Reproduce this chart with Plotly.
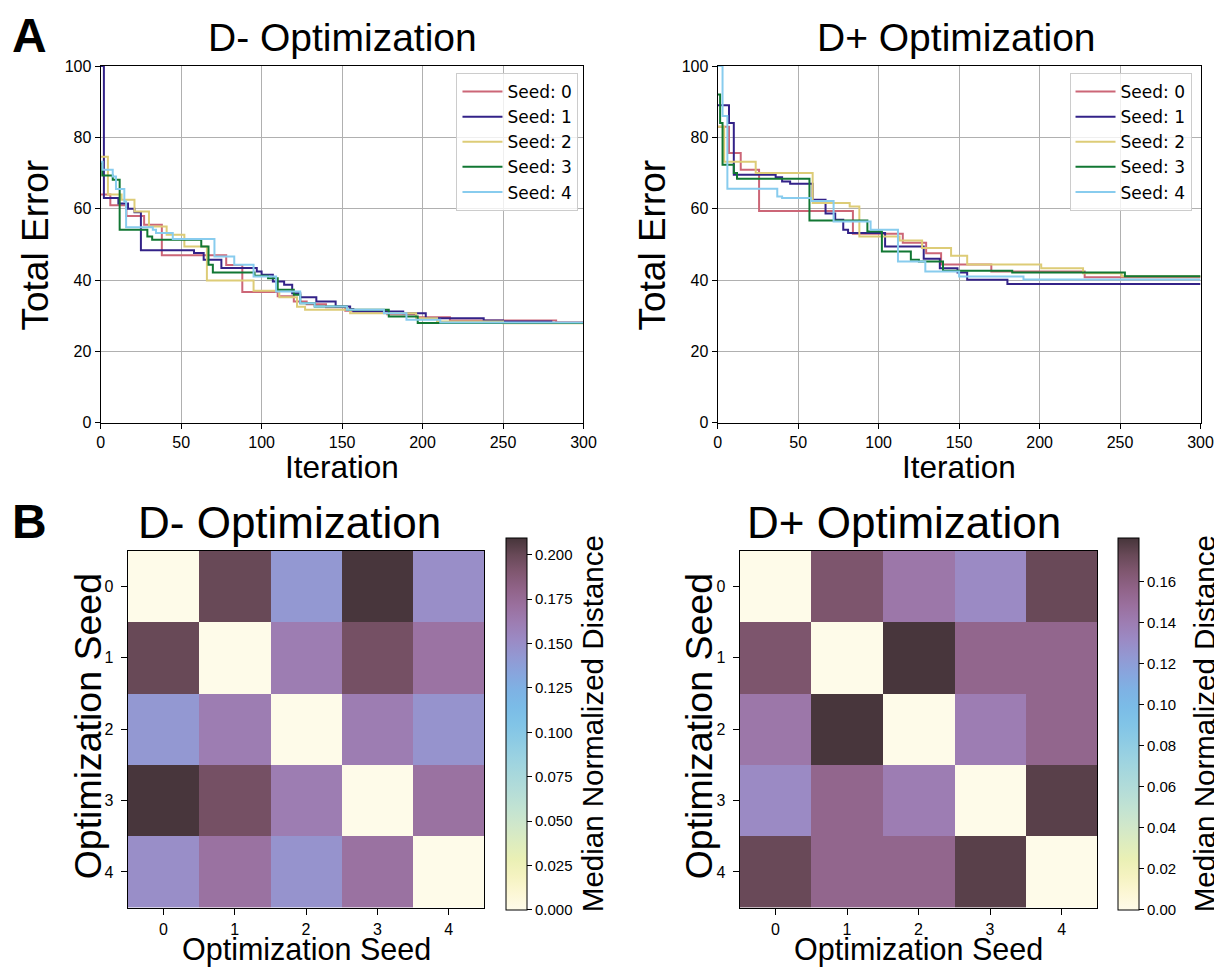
import plotly.graph_objects as go

# ---------------- DATA ----------------
seed_names = ["Seed: 0", "Seed: 1", "Seed: 2", "Seed: 3", "Seed: 4"]
seed_colors = ["#CC6677", "#332288", "#DDCC77", "#117733", "#88CCEE"]

# D- Optimization : iteration at which a new best was found, and total error
dm_iter_s0 = [0, 6, 16, 27, 38, 78, 88, 110, 120, 128, 140, 152, 178, 196, 217, 283, 300]
dm_err_s0 = [64, 61, 58, 55.5, 47, 44.2, 36.7, 35.5, 34, 33.2, 32.4, 31.4, 30.4, 29.6, 28.7, 28.2, 28.2]
dm_iter_s1 = [0, 2, 11, 17, 21, 25, 58, 64, 75, 97, 100, 107, 114, 119, 124, 134, 146, 155, 157, 188, 202, 238, 250, 280, 300]
dm_err_s1 = [100, 63, 61.5, 60, 59, 48.4, 47.6, 45.7, 43.4, 42.4, 41.5, 39.6, 38.7, 36.3, 35.2, 34, 32.6, 31.8, 31.2, 30.7, 29.3, 28.7, 28.4, 28, 28]
dm_iter_s2 = [0, 4.5, 13, 21, 30, 41, 52, 66, 95, 111, 122, 127, 155, 196, 209, 250, 300]
dm_err_s2 = [74.6, 64, 62.5, 59.2, 55, 52.7, 49.4, 39.9, 37, 35.2, 32.5, 31.7, 30.7, 29.3, 28.4, 27.9, 27.9]
dm_iter_s3 = [0, 1, 7.5, 11.8, 29, 32, 62.5, 67, 69.7, 95.6, 104, 110, 120, 124, 133, 153, 179, 197, 300]
dm_err_s3 = [73, 69.3, 68.1, 54.1, 52.2, 51.3, 49.4, 44.3, 42.1, 41.2, 40.5, 37.3, 35.9, 33.5, 32.6, 31.7, 29.8, 28, 28]
dm_iter_s4 = [0, 1.2, 7.5, 9.5, 14.7, 15.8, 32.4, 34.4, 44.8, 70.7, 83, 95, 109, 124, 133, 153, 176, 190, 211, 300]
dm_err_s4 = [73.2, 70.9, 69, 65.5, 62, 54.8, 54.1, 53.2, 51.5, 46.6, 44.3, 41, 36.8, 33.5, 32.6, 31.7, 30.7, 28.9, 28.1, 28.1]

# D+ Optimization
dp_iter_s0 = [0, 7, 14.3, 25.7, 84, 115, 129.5, 138.8, 170, 228, 300]
dp_err_s0 = [83, 75.6, 70.9, 59.4, 53, 50.5, 47.5, 44.4, 42.4, 40.8, 40.8]
dp_iter_s1 = [0, 7, 10, 36, 40, 45, 59, 67, 73, 78, 81, 104, 128, 138, 149, 155, 180, 300]
dp_err_s1 = [89, 84, 69.5, 68.8, 67.6, 67, 62.5, 58.7, 56.9, 54.1, 53.2, 49.4, 46, 43.3, 42.1, 40.1, 38.9, 38.9]
dp_iter_s2 = [0, 4, 23.6, 59, 82, 88, 113, 127, 145, 155, 201, 227, 251, 300]
dp_err_s2 = [83, 73.2, 70, 61.6, 60.6, 52.2, 51.1, 49, 46.8, 44.4, 43.3, 41.9, 41.1, 41.1]
dp_iter_s3 = [0, 1.5, 3, 10, 12, 57, 93, 102, 120, 125, 140, 183, 253, 300]
dp_err_s3 = [92, 84, 72.3, 70, 68.4, 56.7, 53.6, 48, 45.7, 45.2, 42.6, 42.1, 41.1, 41.1]
dp_iter_s4 = [0, 3, 6, 37, 40, 58, 72, 95, 112, 129, 150, 190, 300]
dp_err_s4 = [100, 86, 65.6, 63.4, 63, 62.2, 56.4, 54.1, 45.2, 42.4, 41, 40.2, 40.2]

# Median normalized distance between optimization seeds
seed_ticks = [0, 1, 2, 3, 4]
dm_dist = [
    [0.000, 0.200, 0.143, 0.209, 0.150],
    [0.200, 0.000, 0.162, 0.195, 0.169],
    [0.143, 0.162, 0.000, 0.162, 0.146],
    [0.209, 0.195, 0.162, 0.000, 0.170],
    [0.150, 0.170, 0.146, 0.170, 0.000],
]
dp_dist = [
    [0.000, 0.166, 0.144, 0.132, 0.173],
    [0.166, 0.000, 0.181, 0.155, 0.155],
    [0.144, 0.181, 0.000, 0.140, 0.155],
    [0.132, 0.155, 0.140, 0.000, 0.177],
    [0.173, 0.155, 0.155, 0.177, 0.000],
]
dm_ticks = [0.0, 0.025, 0.05, 0.075, 0.1, 0.125, 0.15, 0.175, 0.2]
dp_ticks = [0.0, 0.02, 0.04, 0.06, 0.08, 0.1, 0.12, 0.14, 0.16]
dm_vmax = 0.2096
dp_vmax = 0.1815

iridescent = ["#FEFBE9", "#FCF7D5", "#F5F3C1", "#EAF0B5", "#DDECBF", "#D0E7CA",
              "#C2E3D2", "#B5DDD8", "#A8D8DC", "#9BD2E1", "#8DCBE4", "#81C4E7",
              "#7BBCE7", "#7EB2E4", "#88A5DD", "#9398D2", "#9B8AC4", "#9D7DB2",
              "#9A709E", "#906388", "#805770", "#684957", "#46353A"]

# ---------------- LAYOUT HELPERS ----------------
# measured page -> picture mapping: picture = S * page + A (page has an 8px body margin)
OFF = 8
SX, AX = 0.9845, 4.6
SY, AY = 0.983, 8.1
W, H = 1229, 972

def fx(p):
    page = (p - AX) / SX
    return (page - OFF) / W

def fy(p):
    page = (p - AY) / SY
    return 1 - (page - OFF) / H

TITLE_FONT = "Liberation Sans, Arial, sans-serif"
TICK_FONT = "Liberation Sans, Arial, sans-serif"
LEG_FONT = "DejaVu Sans, sans-serif"

fig = go.Figure()

dm_series = [(dm_iter_s0, dm_err_s0), (dm_iter_s1, dm_err_s1), (dm_iter_s2, dm_err_s2),
             (dm_iter_s3, dm_err_s3), (dm_iter_s4, dm_err_s4)]
dp_series = [(dp_iter_s0, dp_err_s0), (dp_iter_s1, dp_err_s1), (dp_iter_s2, dp_err_s2),
             (dp_iter_s3, dp_err_s3), (dp_iter_s4, dp_err_s4)]

for i, (xs, ys) in enumerate(dm_series):
    fig.add_trace(go.Scatter(x=xs, y=ys, mode="lines", line_shape="hv",
                             line=dict(color=seed_colors[i], width=2),
                             name=seed_names[i], xaxis="x", yaxis="y", legend="legend"))
for i, (xs, ys) in enumerate(dp_series):
    fig.add_trace(go.Scatter(x=xs, y=ys, mode="lines", line_shape="hv",
                             line=dict(color=seed_colors[i], width=2),
                             name=seed_names[i], xaxis="x2", yaxis="y2", legend="legend2"))

cscale = [[i / (len(iridescent) - 1), c] for i, c in enumerate(iridescent)]

def cbar(xpix, ticks, fmt):
    return dict(x=fx(xpix), xanchor="left", xpad=0, y=fy(538), yanchor="top", ypad=0,
                len=fy(538) - fy(910), lenmode="fraction", thickness=21,
                outlinecolor="black", outlinewidth=1,
                tickvals=ticks, tickformat=fmt, ticks="outside", ticklen=5,
                tickcolor="black", tickfont=dict(family=TICK_FONT, size=15, color="black"))

fig.add_trace(go.Heatmap(z=dm_dist, x=seed_ticks, y=seed_ticks, colorscale=cscale,
                         zmin=0, zmax=dm_vmax, xaxis="x3", yaxis="y3",
                         colorbar=cbar(506, dm_ticks, ".3f"), hoverongaps=False))
fig.add_trace(go.Heatmap(z=dp_dist, x=seed_ticks, y=seed_ticks, colorscale=cscale,
                         zmin=0, zmax=dp_vmax, xaxis="x4", yaxis="y4",
                         colorbar=cbar(1117, dp_ticks, ".2f"), hoverongaps=False))

line_ax = dict(showline=True, mirror=True, linecolor="black", linewidth=1.2,
               ticks="outside", ticklen=5, tickcolor="black",
               showgrid=True, gridcolor="#b0b0b0", gridwidth=1, zeroline=False,
               tickfont=dict(family=TICK_FONT, size=16, color="black"))
heat_ax = dict(showline=True, mirror=True, linecolor="black", linewidth=1.2,
               ticks="outside", ticklen=6, tickcolor="black",
               showgrid=False, zeroline=False, tickvals=seed_ticks,
               tickfont=dict(family=TICK_FONT, size=16, color="black"))

leg = dict(xanchor="right", yanchor="top",
           bgcolor="rgba(255,255,255,0.8)", bordercolor="#cccccc", borderwidth=1,
           font=dict(family=LEG_FONT, size=17, color="black"), itemwidth=40, tracegroupgap=0)

fig.update_layout(
    width=W, height=H, margin=dict(l=0, r=0, t=0, b=0),
    paper_bgcolor="white", plot_bgcolor="white", showlegend=True,
    xaxis=dict(domain=[fx(101), fx(583)], range=[0, 300], tickvals=[0, 50, 100, 150, 200, 250, 300], anchor="y", **line_ax),
    yaxis=dict(domain=[fy(423), fy(66)], range=[0, 100], tickvals=[0, 20, 40, 60, 80, 100], anchor="x", **line_ax),
    xaxis2=dict(domain=[fx(717), fx(1199)], range=[0, 300], tickvals=[0, 50, 100, 150, 200, 250, 300], anchor="y2", **line_ax),
    yaxis2=dict(domain=[fy(423), fy(66)], range=[0, 100], tickvals=[0, 20, 40, 60, 80, 100], anchor="x2", **line_ax),
    xaxis3=dict(domain=[fx(128), fx(484)], range=[-0.5, 4.5], anchor="y3", ticklabelstandoff=1, **heat_ax),
    yaxis3=dict(domain=[fy(908), fy(551)], range=[4.5, -0.5], anchor="x3", ticklabelstandoff=4, **heat_ax),
    xaxis4=dict(domain=[fx(739), fx(1096)], range=[-0.5, 4.5], anchor="y4", ticklabelstandoff=1, **heat_ax),
    yaxis4=dict(domain=[fy(908), fy(551)], range=[4.5, -0.5], anchor="x4", ticklabelstandoff=4, **heat_ax),
    legend=dict(x=fx(578), y=fy(73), **leg),
    legend2=dict(x=fx(1190), y=fy(73), **leg),
)

def label(text, xp, yp, size, angle=0, bold=False):
    fig.add_annotation(text=("<b>%s</b>" % text) if bold else text, x=fx(xp), y=fy(yp),
                       xref="paper", yref="paper", showarrow=False, textangle=angle,
                       xanchor="center", yanchor="middle",
                       font=dict(family=TITLE_FONT, size=size, color="black"))

label("A", 30, 35, 48, bold=True)
label("B", 30, 522, 48, bold=True)
label("D- Optimization", 342, 37, 39)
label("D+ Optimization", 955, 37, 39)
label("Iteration", 342, 467, 31.5)
label("Iteration", 958, 467, 31.5)
label("Total Error", 36, 245, 37, angle=-90)
label("Total Error", 652, 245, 37, angle=-90)
label("D- Optimization", 290, 523, 44)
label("D+ Optimization", 903, 523, 44)
label("Optimization Seed", 306, 950, 30.5)
label("Optimization Seed", 917, 950, 30.5)
label("Optimization Seed", 88, 727, 37.5, angle=-90)
label("Optimization Seed", 698, 727, 37.5, angle=-90)
label("Median Normalized Distance", 592, 724, 29.5, angle=-90)
label("Median Normalized Distance", 1203, 724, 29.5, angle=-90)

fig.write_html("out.html")
